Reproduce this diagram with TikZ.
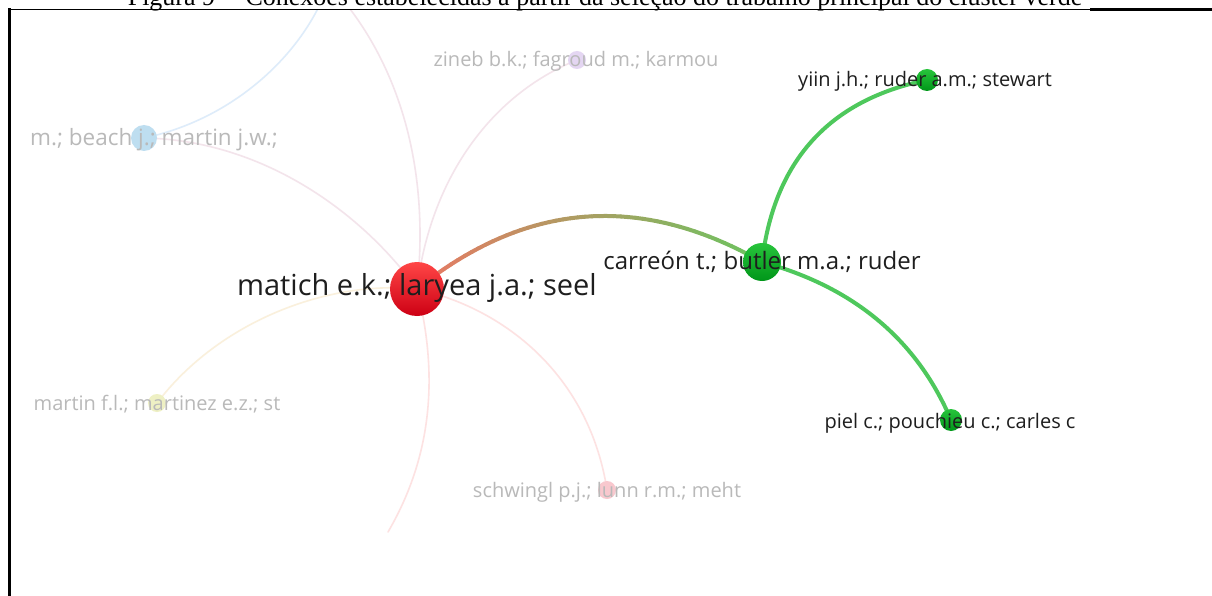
\documentclass[tikz,border=0pt]{standalone}
\usepackage{fontspec}
\newfontfamily\osans{Open Sans}
\newfontfamily\tnr{Liberation Serif}
\usetikzlibrary{calc}
\definecolor{edgeR}{RGB}{234,120,100}
\definecolor{edgeG}{RGB}{108,196,96}
\definecolor{gedge}{RGB}{78,200,92}
\definecolor{gtop}{RGB}{40,196,60}
\definecolor{gbot}{RGB}{0,150,25}
\definecolor{rtop}{RGB}{255,70,70}
\definecolor{rbot}{RGB}{205,0,20}
\definecolor{fadetxt}{RGB}{185,185,185}
\definecolor{darktxt}{RGB}{30,30,30}
\definecolor{fblue}{RGB}{190,222,240}
\definecolor{fpurple}{RGB}{228,214,242}
\definecolor{fyellow}{RGB}{238,240,196}
\definecolor{fpink}{RGB}{248,200,206}
\definecolor{lblue}{RGB}{222,236,250}
\definecolor{llav}{RGB}{243,228,235}
\definecolor{lpink}{RGB}{253,226,226}
\definecolor{lyel}{RGB}{250,240,220}
\tikzset{
  x=1pt, y=-1pt,
  redball/.style={circle, minimum size=54pt, inner sep=0pt, top color=rtop, bottom color=rbot, draw=none},
  greenbig/.style={circle, minimum size=38pt, inner sep=0pt, top color=gtop, bottom color=gbot, draw=none},
  greensmall/.style={circle, minimum size=22pt, inner sep=0pt, top color=gtop, bottom color=gbot, draw=none},
  fadeball/.style={circle, minimum size=#1, inner sep=0pt, draw=none},
  faint/.style={line width=1.6pt, line cap=round},
  gline/.style={line width=4pt, draw=gedge, line cap=round},
  lbl/.style={anchor=base, inner sep=0pt, text=darktxt, font=\osans\fontsize{#1}{#1}\selectfont},
  flbl/.style={anchor=base, inner sep=0pt, text=fadetxt, font=\osans\fontsize{#1}{#1}\selectfont},
}
\begin{document}
\begin{tikzpicture}
\useasboundingbox (0,0) rectangle (1212,596);
\fill[white] (0,0) rectangle (1212,596);

% caption (cut off at top)
\node[anchor=base, inner sep=0pt, font=\tnr\fontsize{26}{26}\selectfont] (cap) at (605,5.5) {Figura 9 -- Conexões estabelecidas a partir da seleção do trabalho principal do cluster verde};

% node positions
\coordinate (m) at (417,289);
\coordinate (c) at (762,262);
\coordinate (y) at (927,80);
\coordinate (p) at (951,420);
\coordinate (z) at (577,60);
\coordinate (b) at (144,138);
\coordinate (f) at (157,403);
\coordinate (s) at (607,490);
\coordinate (topA) at (322,0);
\coordinate (topB) at (343,0);
\coordinate (bot) at (388,532);
\coordinate (k) at (580,158);

\begin{scope}
\clip (0,10.5) rectangle (1212,596);
% faint edges
\draw[faint, draw=lblue] (b) .. controls (230,120) and (295,60) .. (topA);
\draw[faint, draw=llav] (b) .. controls (260,140) and (360,210) .. (m);
\draw[faint, draw=llav] (topB) .. controls (400,70) and (430,170) .. (m);
\draw[faint, draw=llav] (m) .. controls (430,180) and (490,95) .. (z);
\draw[faint, draw=lyel] (m) .. controls (330,280) and (220,320) .. (f);
\draw[faint, draw=lpink] (m) .. controls (440,380) and (430,460) .. (bot);
\draw[faint, draw=lpink] (m) .. controls (510,310) and (590,380) .. (s);
\end{scope}

% gradient edge matich -> carreon
\foreach \i in {0,...,47}{
  \pgfmathsetmacro\ta{\i/48}
  \pgfmathsetmacro\tb{(\i+1)/48}
  \pgfmathsetmacro\mx{100*(1-(\i+0.5)/48)}
  \draw[line width=4pt, line cap=round, draw=edgeR!\mx!edgeG]
    ($($(m)!\ta!(k)$)!\ta!($(k)!\ta!(c)$)$) -- ($($(m)!\tb!(k)$)!\tb!($(k)!\tb!(c)$)$);
}

% green edges
\draw[gline] (c) .. controls (774,161) and (829,100) .. (y);
\draw[gline] (c) .. controls (854,287) and (917,340) .. (p);

% faded nodes
\node[fadeball=26pt, fill=fblue] (nb) at (b) {};
\node[fadeball=18pt, fill=fpurple] (nz) at (z) {};
\node[fadeball=18pt, fill=fyellow] (nf) at (f) {};
\node[fadeball=18pt, fill=fpink] (ns) at (s) {};

% main nodes
\node[redball] (nm) at (m) {};
\node[greenbig] (nc) at (c) {};
\node[greensmall] (ny) at (y) {};
\node[greensmall] (np) at (p) {};

% labels
\node[flbl=20] (lz) at (576,67) {zineb b.k.; fagroud m.; karmou};
\node[flbl=22.5, anchor=base west] (lb) at (30,146) {m.; beach j.; martin j.w.;};
\node[flbl=20] (lf) at (157,410) {martin f.l.; martinez e.z.; st};
\node[flbl=20] (ls) at (607,497) {schwingl p.j.; lunn r.m.; meht};
\node[lbl=29] (lm) at (417,295) {matich e.k.; laryea j.a.; seel};
\node[lbl=24] (lc) at (762,269) {carreón t.; butler m.a.; ruder};
\node[lbl=20] (ly) at (925,87) {yiin j.h.; ruder a.m.; stewart};
\node[lbl=20] (lp) at (950,428) {piel c.; pouchieu c.; carles c};

% frame
\draw[line width=1.5pt] (8,9.5) -- (1090,9.5);
\draw[line width=3pt] (1090,10) -- (1212,10);
\draw[line width=2.5pt] (9.5,8.5) -- (9.5,596);
\end{tikzpicture}
\end{document}
